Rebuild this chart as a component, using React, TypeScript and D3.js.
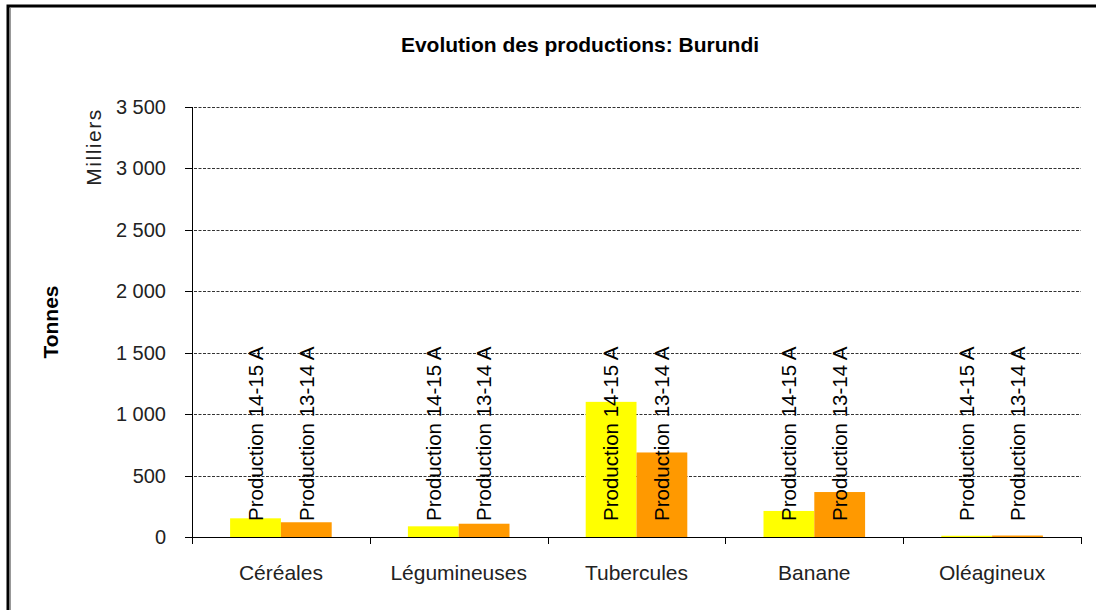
import { useRef, useEffect } from "react";
import * as d3 from "d3";

const categories = ["Céréales", "Légumineuses", "Tubercules", "Banane", "Oléagineux"];
const seriesNames = ["Production 14-15 A", "Production 13-14 A"];
const prod1415 = [152, 87, 1100, 212, 10];
const prod1314 = [120, 108, 688, 366, 12];
const seriesColors = ["#FFFF00", "#FF9900"];
const yTicks = [0, 500, 1000, 1500, 2000, 2500, 3000, 3500];

const W = 1096;
const H = 610;
const font = "'Liberation Sans', Arial, sans-serif";

// "3 500" style labels
const fmt = (v: number) => d3.format(",")(v).replace(/,/g, " ");

export default function App() {
  const svgRef = useRef<SVGSVGElement>(null);

  useEffect(() => {
    if (!svgRef.current) return;
    const svg = d3.select(svgRef.current);
    svg.selectAll("*").remove();

    const left = 192, right = 1081, top = 107, bottom = 537;

    // outer frame of the chart object
    svg.append("rect").attr("x", 8).attr("y", 6).attr("width", 1200).attr("height", 700)
      .attr("fill", "#fff").attr("stroke", "#000").attr("stroke-width", 3);
    svg.append("line").attr("x1", 10.5).attr("x2", 10.5).attr("y1", 8).attr("y2", H)
      .attr("stroke", "#999").attr("stroke-width", 1);

    const x0 = d3.scaleBand<string>().domain(categories).range([left, right]);
    const x1 = d3.scaleBand<string>().domain(seriesNames).range([0, x0.bandwidth()])
      .paddingOuter(0.75);
    const y = d3.scaleLinear().domain([0, 3500]).range([bottom, top]);

    // gridlines
    svg.append("g").selectAll("line").data(yTicks.filter((t) => t > 0)).join("line")
      .attr("x1", left - 7).attr("x2", right)
      .attr("y1", (d) => Math.round(y(d)) + 0.5).attr("y2", (d) => Math.round(y(d)) + 0.5)
      .attr("stroke", "#333").attr("stroke-dasharray", "3,1.5");

    // bars
    const data = categories.map((c, i) => ({ cat: c, vals: [prod1415[i], prod1314[i]] }));
    const grp = svg.append("g").selectAll("g").data(data).join("g")
      .attr("transform", (d) => `translate(${x0(d.cat)},0)`);
    grp.selectAll("rect").data((d) => d.vals.map((v, j) => ({ v, s: seriesNames[j], j })))
      .join("rect")
      .attr("x", (d) => x1(d.s)!)
      .attr("width", x1.bandwidth())
      .attr("y", (d) => y(d.v))
      .attr("height", (d) => y(0) - y(d.v))
      .attr("fill", (d) => seriesColors[d.j]);

    // data labels (series names, rotated)
    grp.selectAll("text").data((d) => d.vals.map((v, j) => ({ v, s: seriesNames[j] })))
      .join("text")
      .attr("transform", (d) => `translate(${x1(d.s)! + x1.bandwidth() / 2},${bottom - 16}) rotate(-90)`)
      .attr("dy", "0.36em")
      .attr("font-family", font).attr("font-size", 20.5).attr("fill", "#000")
      .text((d) => d.s);

    // y axis
    svg.append("line").attr("x1", left + 0.5).attr("x2", left + 0.5).attr("y1", top).attr("y2", bottom + 7)
      .attr("stroke", "#000");
    svg.append("g").selectAll("line").data(yTicks).join("line")
      .attr("x1", left - 7).attr("x2", left)
      .attr("y1", (d) => Math.round(y(d)) + 0.5).attr("y2", (d) => Math.round(y(d)) + 0.5)
      .attr("stroke", "#000");
    svg.append("g").selectAll("text").data(yTicks).join("text")
      .attr("x", left - 26).attr("y", (d) => y(d)).attr("dy", "0.35em")
      .attr("text-anchor", "end").attr("font-family", font).attr("font-size", 20).attr("fill", "#222")
      .text((d) => fmt(d));

    // x axis
    svg.append("line").attr("x1", left).attr("x2", right).attr("y1", bottom + 0.5).attr("y2", bottom + 0.5)
      .attr("stroke", "#000");
    const bounds = [...categories.map((c) => x0(c)!), right];
    svg.append("g").selectAll("line").data(bounds).join("line")
      .attr("x1", (d) => Math.round(d) + 0.5).attr("x2", (d) => Math.round(d) + 0.5)
      .attr("y1", bottom).attr("y2", bottom + 7).attr("stroke", "#000");
    svg.append("g").selectAll("text").data(categories).join("text")
      .attr("x", (d) => x0(d)! + x0.bandwidth() / 2).attr("y", 573).attr("dy", "0.35em")
      .attr("text-anchor", "middle").attr("font-family", font).attr("font-size", 21).attr("fill", "#222")
      .text((d) => d);

    // titles
    svg.append("text").attr("x", 580).attr("y", 45).attr("dy", "0.35em")
      .attr("text-anchor", "middle").attr("font-family", font).attr("font-size", 21)
      .attr("font-weight", "bold").text("Evolution des productions: Burundi");
    svg.append("text").attr("transform", "translate(51,322) rotate(-90)").attr("dy", "0.35em")
      .attr("text-anchor", "middle").attr("font-family", font).attr("font-size", 21)
      .attr("font-weight", "bold").text("Tonnes");
    svg.append("text").attr("transform", "translate(94,147) rotate(-90)").attr("dy", "0.35em")
      .attr("text-anchor", "middle").attr("font-family", font).attr("font-size", 21)
      .attr("letter-spacing", 1.5).attr("fill", "#222").text("Milliers");
  }, []);

  return (
    <svg ref={svgRef} width={W} height={H}
      style={{ position: "absolute", left: 0, top: 0, background: "#fff" }} />
  );
}
